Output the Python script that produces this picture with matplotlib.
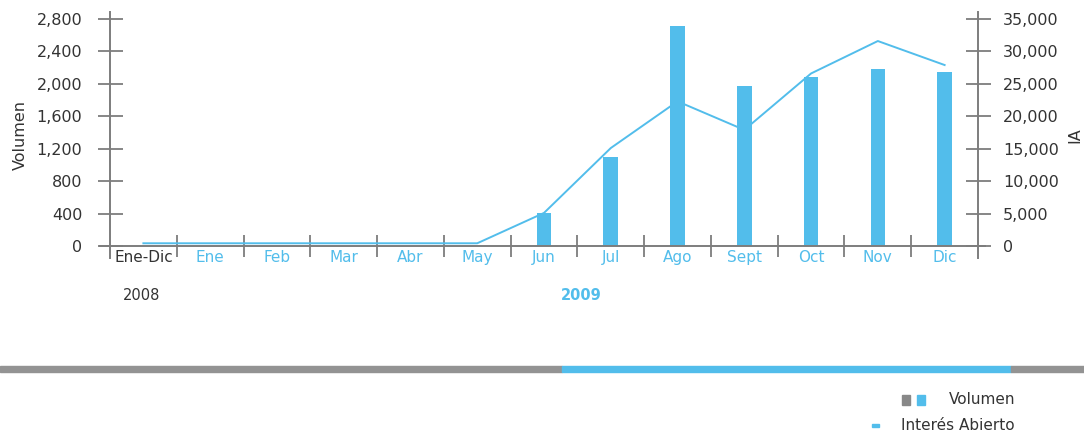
import numpy as np
import matplotlib
matplotlib.use("Agg")
from matplotlib import pyplot as plt
from matplotlib.patches import Rectangle
import matplotlib.transforms as mtransforms

# datos
categorias = ['Ene-Dic', 'Ene', 'Feb', 'Mar', 'Abr', 'May', 'Jun',
              'Jul', 'Ago', 'Sept', 'Oct', 'Nov', 'Dic']
volumen = [0, 0, 0, 0, 0, 0, 405, 1100, 2715, 1975, 2090, 2185, 2150]
interes_abierto = [420, 420, 420, 420, 420, 420, 5100, 15100, 22300, 17900,
                   26600, 31600, 27900]
ticks_vol = [0, 400, 800, 1200, 1600, 2000, 2400, 2800]
ticks_ia = [0, 5000, 10000, 15000, 20000, 25000, 30000, 35000]

azul = '#52bdeb'
gris = '#7d7d7d'
texto = '#333333'

plt.rcParams['font.family'] = ['DejaVu Sans']

fig = plt.figure(figsize=(10.84, 4.33), dpi=100)
ax = fig.add_axes([110/1084, 1 - 258/433, (978-110)/1084, (258-12)/433])
ax2 = ax.twinx()

x = np.arange(len(categorias))

#--------------------------------------------------------------------------#
# barras de volumen y linea de interes abierto
ax.bar(x, volumen, width=0.22, color=azul, zorder=3)
ax2.plot(x, interes_abierto, color=azul, lw=1.4, zorder=4)

ax.set_xlim(-0.5, len(categorias) - 0.5)
ax.set_ylim(-148, 2886)
ax2.set_ylim(-148 * 12.5, 2886 * 12.5)

#--------------------------------------------------------------------------#
# ejes
for a in (ax, ax2):
    for s in ('top', 'bottom'):
        a.spines[s].set_visible(False)
    a.set_xticks([])
ax.spines['right'].set_visible(False)
ax2.spines['left'].set_visible(False)
ax.spines['left'].set_color(gris)
ax.spines['left'].set_linewidth(1.4)
ax2.spines['right'].set_color(gris)
ax2.spines['right'].set_linewidth(1.4)

ax.set_yticks(ticks_vol)
ax.set_yticklabels(['{:,}'.format(v) for v in ticks_vol])
ax2.set_yticks(ticks_ia)
ax2.set_yticklabels(['{:,}'.format(v) for v in ticks_ia])
ax.tick_params(axis='y', direction='inout', length=18, width=1.3, color=gris,
               labelsize=11.5, labelcolor=texto, pad=11)
ax2.tick_params(axis='y', direction='inout', length=18, width=1.3, color=gris,
                labelsize=11.5, labelcolor=texto, pad=9)

ax.set_ylabel('Volumen', fontsize=11.5, color=texto, labelpad=6)
ax2.set_ylabel('IA', fontsize=11.5, color=texto, labelpad=6)

# linea del eje x y separadores
trans = mtransforms.blended_transform_factory(ax.transAxes, ax.transData)
ax.plot([-0.012, 1.008], [0, 0], color=gris, lw=1.4, transform=trans, clip_on=False, zorder=5)
ax.vlines(x[:-1] + 0.5, -140, 135, color=gris, lw=1.3, zorder=5)

for i, c in enumerate(categorias):
    col = texto if i == 0 else azul
    ax.text(i, -50, c, ha='center', va='top', fontsize=11, color=col, clip_on=False)

fig.text(142/1084, 1 - 296/433, '2008', ha='center', va='center', fontsize=10.5, color=texto)
fig.text(581/1084, 1 - 296/433, '2009', ha='center', va='center', fontsize=10.5,
         color=azul, fontweight='bold')

#--------------------------------------------------------------------------#
# franja inferior y leyenda
fig.patches.append(Rectangle((0, 1 - 372/433), 562/1084, 6/433, transform=fig.transFigure,
                             color='#939393', figure=fig))
fig.patches.append(Rectangle((562/1084, 1 - 372/433), (1011-562)/1084, 6/433,
                             transform=fig.transFigure, color=azul, figure=fig))
fig.patches.append(Rectangle((1011/1084, 1 - 372/433), (1084-1011)/1084, 6/433,
                             transform=fig.transFigure, color='#939393', figure=fig))

fig.patches.append(Rectangle((902/1084, 1 - 405/433), 8/1084, 10/433, transform=fig.transFigure,
                             color='#888888', figure=fig))
fig.patches.append(Rectangle((917/1084, 1 - 405/433), 8/1084, 10/433, transform=fig.transFigure,
                             color=azul, figure=fig))
fig.text(1015/1084, 1 - 400/433, 'Volumen', ha='right', va='center', fontsize=11, color=texto)
fig.patches.append(Rectangle((872/1084, 1 - 427/433), 7/1084, 3/433, transform=fig.transFigure,
                             color=azul, figure=fig))
fig.text(1015/1084, 1 - 425/433, 'Interés Abierto', ha='right', va='center', fontsize=11, color=texto)

fig.savefig('out.png', dpi=100)
